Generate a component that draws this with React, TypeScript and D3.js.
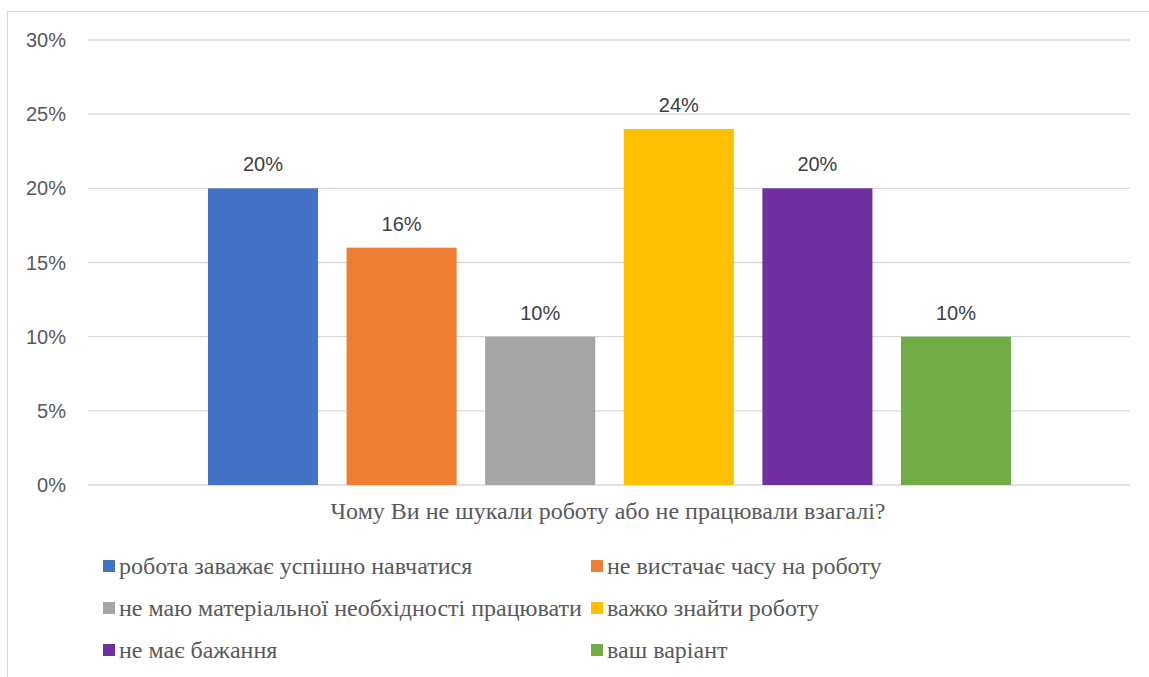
import React from "react";
import * as d3 from "d3";

const categories: string[] = [
  "робота заважає успішно навчатися",
  "не вистачає часу на роботу",
  "не маю матеріальної необхідності працювати",
  "важко знайти роботу",
  "не має бажання",
  "ваш варіант",
];
const values: number[] = [0.2, 0.16, 0.1, 0.24, 0.2, 0.1];
const colors: string[] = ["#4472C4", "#ED7D31", "#A5A5A5", "#FFC000", "#7030A0", "#70AD47"];
const yTicks: number[] = [0, 0.05, 0.1, 0.15, 0.2, 0.25, 0.3];
const axisTitle = "Чому Ви не шукали роботу або не працювали взагалі?";

const width = 1149;
const height = 677;
const plotLeft = 88;
const plotRight = 1130;
const plotTop = 40;
const plotBottom = 485;

const labelFont = "Liberation Sans, Arial, sans-serif";
const serifFont = "Liberation Serif, DejaVu Serif, serif";
const textColor = "#595959";

const App = () => {
  const x = d3
    .scaleBand<string>()
    .domain(categories)
    .range([193.7, 1025.3])
    .paddingInner(0.206)
    .paddingOuter(0.103);

  const y = d3.scaleLinear().domain([0, 0.3]).range([plotBottom, plotTop]);
  const fmt = d3.format(".0%");

  const legendCols = [103, 591];
  const legendRows = [565.5, 607.5, 649.5];

  return (
    <svg
      width={width}
      height={height}
      style={{ position: "absolute", left: 0, top: 0, background: "#fff" }}
    >
      <rect x={7.5} y={11.5} width={1200} height={700} fill="#fff" stroke="#D9D9D9" strokeWidth={1} />

      {yTicks.map((t) => (
        <g key={t}>
          <line
            x1={plotLeft}
            x2={plotRight}
            y1={y(t)}
            y2={y(t)}
            stroke="#D9D9D9"
            strokeWidth={1.3}
          />
          <text
            x={66}
            y={y(t)}
            dy="0.35em"
            textAnchor="end"
            fontFamily={labelFont}
            fontSize={20}
            fill={textColor}
          >
            {fmt(t)}
          </text>
        </g>
      ))}

      {categories.map((c, i) => (
        <g key={c}>
          <rect
            x={x(c)}
            y={y(values[i])}
            width={x.bandwidth()}
            height={y(0) - y(values[i])}
            fill={colors[i]}
          />
          <text
            x={Number(x(c)) + x.bandwidth() / 2}
            y={y(values[i]) - 17}
            textAnchor="middle"
            fontFamily={labelFont}
            fontSize={20}
            fill="#404040"
          >
            {fmt(values[i])}
          </text>
        </g>
      ))}

      <text
        x={(plotLeft + plotRight) / 2 - 1}
        y={519}
        textAnchor="middle"
        style={{ fontFamily: serifFont, fontSize: "24px" }}
        fill={textColor}
      >
        {axisTitle}
      </text>

      {categories.map((c, i) => {
        const cx = legendCols[i % 2];
        const cy = legendRows[Math.floor(i / 2)];
        return (
          <g key={"lg" + c}>
            <rect x={cx} y={cy - 5.5} width={12} height={12} fill={colors[i]} />
            <text
              x={cx + 16}
              y={cy}
              dy="0.35em"
              style={{ fontFamily: serifFont, fontSize: "24px" }}
              fill={textColor}
            >
              {c}
            </text>
          </g>
        );
      })}
    </svg>
  );
};

export default App;
